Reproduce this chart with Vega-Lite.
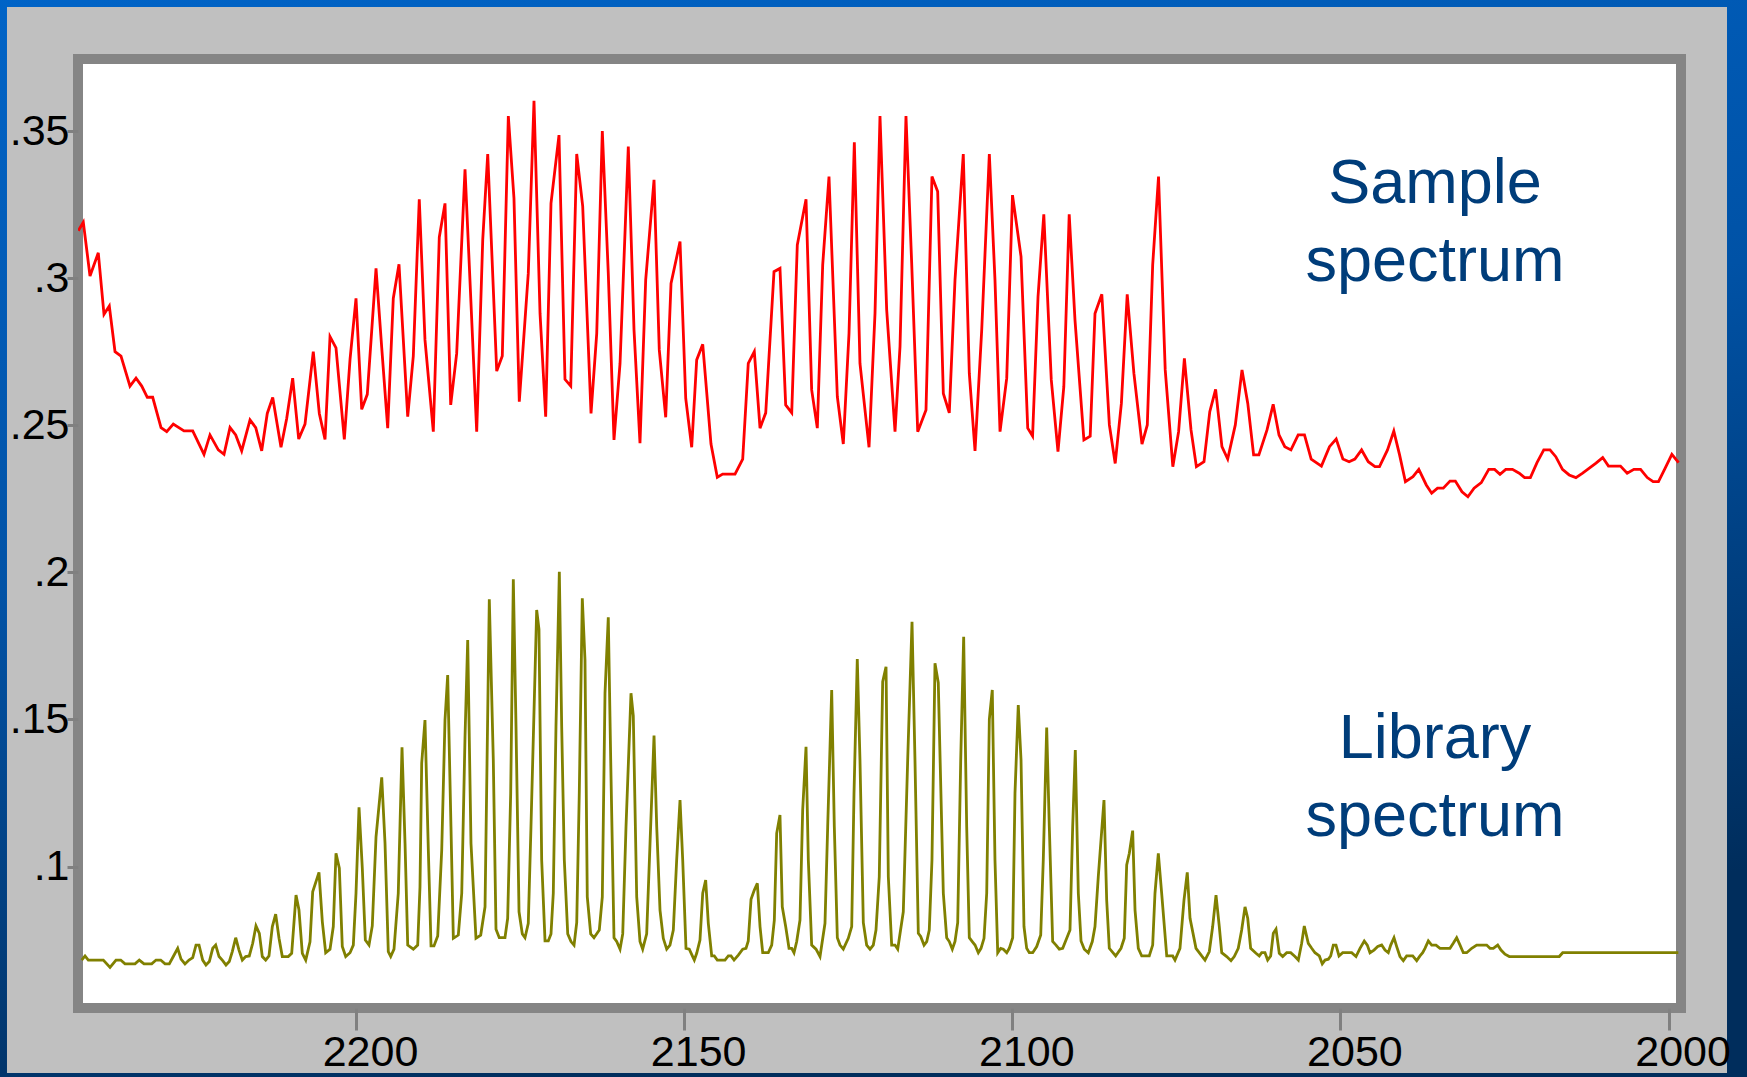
{
"$schema": "https://vega.github.io/schema/vega-lite/v6.json",
"width": 1603,
"height": 949,
"autosize": {"type": "none"},
"padding": {"left": 78, "top": 59, "right": 66, "bottom": 69},
"background": "#0a50a0",
"config": {"view": {"stroke": null}, "font": "Liberation Sans"},
"datasets": {
"sample": [
{"wn":2242.31,"abs":0.3161},{"wn":2241.55,"abs":0.3190},{"wn":2240.53,"abs":0.3007},{"wn":2239.27,"abs":0.3086},{"wn":2238.40,"abs":0.2877},{"wn":2237.59,"abs":0.2905},{"wn":2236.72,"abs":0.2750},{"wn":2235.81,"abs":0.2735},{"wn":2234.44,"abs":0.2633},{"wn":2233.52,"abs":0.2660},{"wn":2232.65,"abs":0.2633},{"wn":2231.80,"abs":0.2595},{"wn":2230.98,"abs":0.2595},{"wn":2229.71,"abs":0.2492},{"wn":2228.84,"abs":0.2478},{"wn":2227.84,"abs":0.2504},{"wn":2226.21,"abs":0.2481},{"wn":2224.88,"abs":0.2481},{"wn":2223.16,"abs":0.2401},{"wn":2222.25,"abs":0.2467},{"wn":2220.98,"abs":0.2416},{"wn":2220.11,"abs":0.2401},{"wn":2219.20,"abs":0.2492},{"wn":2218.33,"abs":0.2467},{"wn":2217.42,"abs":0.2413},{"wn":2216.15,"abs":0.2518},{"wn":2215.28,"abs":0.2492},{"wn":2214.37,"abs":0.2413},{"wn":2213.52,"abs":0.2540},{"wn":2212.69,"abs":0.2594},{"wn":2211.43,"abs":0.2425},{"wn":2210.56,"abs":0.2523},{"wn":2209.65,"abs":0.2660},{"wn":2208.73,"abs":0.2453},{"wn":2207.77,"abs":0.2504},{"wn":2206.51,"abs":0.2750},{"wn":2205.59,"abs":0.2540},{"wn":2204.72,"abs":0.2452},{"wn":2203.96,"abs":0.2801},{"wn":2203.05,"abs":0.2763},{"wn":2201.78,"abs":0.2452},{"wn":2200.91,"abs":0.2724},{"wn":2200.00,"abs":0.2931},{"wn":2199.13,"abs":0.2554},{"wn":2198.28,"abs":0.2605},{"wn":2196.95,"abs":0.3033},{"wn":2196.08,"abs":0.2763},{"wn":2195.17,"abs":0.2490},{"wn":2194.32,"abs":0.2931},{"wn":2193.45,"abs":0.3047},{"wn":2192.12,"abs":0.2529},{"wn":2191.27,"abs":0.2735},{"wn":2190.36,"abs":0.3268},{"wn":2189.49,"abs":0.2790},{"wn":2188.22,"abs":0.2478},{"wn":2187.31,"abs":0.3139},{"wn":2186.44,"abs":0.3254},{"wn":2185.57,"abs":0.2569},{"wn":2184.66,"abs":0.2744},{"wn":2183.39,"abs":0.3370},{"wn":2181.61,"abs":0.2478},{"wn":2180.69,"abs":0.3130},{"wn":2179.93,"abs":0.3422},{"wn":2178.56,"abs":0.2684},{"wn":2177.71,"abs":0.2735},{"wn":2176.79,"abs":0.3551},{"wn":2175.93,"abs":0.3271},{"wn":2175.12,"abs":0.2580},{"wn":2173.75,"abs":0.3016},{"wn":2172.88,"abs":0.3603},{"wn":2171.96,"abs":0.2880},{"wn":2171.10,"abs":0.2529},{"wn":2170.29,"abs":0.3254},{"wn":2169.07,"abs":0.3486},{"wn":2168.16,"abs":0.2656},{"wn":2167.28,"abs":0.2633},{"wn":2166.37,"abs":0.3422},{"wn":2165.46,"abs":0.3245},{"wn":2164.19,"abs":0.2540},{"wn":2163.32,"abs":0.2812},{"wn":2162.47,"abs":0.3500},{"wn":2161.56,"abs":0.3016},{"wn":2160.69,"abs":0.2450},{"wn":2159.77,"abs":0.2710},{"wn":2158.51,"abs":0.3447},{"wn":2157.64,"abs":0.2824},{"wn":2156.73,"abs":0.2439},{"wn":2155.86,"abs":0.2994},{"wn":2154.59,"abs":0.3334},{"wn":2153.79,"abs":0.2756},{"wn":2152.81,"abs":0.2527},{"wn":2152.00,"abs":0.2982},{"wn":2150.63,"abs":0.3124},{"wn":2149.76,"abs":0.2591},{"wn":2148.85,"abs":0.2425},{"wn":2148.09,"abs":0.2722},{"wn":2147.17,"abs":0.2775},{"wn":2145.91,"abs":0.2436},{"wn":2144.95,"abs":0.2323},{"wn":2144.13,"abs":0.2334},{"wn":2142.25,"abs":0.2334},{"wn":2141.08,"abs":0.2385},{"wn":2140.23,"abs":0.2710},{"wn":2139.31,"abs":0.2750},{"wn":2138.44,"abs":0.2490},{"wn":2137.57,"abs":0.2542},{"wn":2136.31,"abs":0.3022},{"wn":2135.40,"abs":0.3033},{"wn":2134.53,"abs":0.2569},{"wn":2133.61,"abs":0.2542},{"wn":2132.76,"abs":0.3113},{"wn":2131.43,"abs":0.3268},{"wn":2130.57,"abs":0.2620},{"wn":2129.71,"abs":0.2490},{"wn":2128.89,"abs":0.3045},{"wn":2127.93,"abs":0.3345},{"wn":2126.66,"abs":0.2597},{"wn":2125.75,"abs":0.2436},{"wn":2124.88,"abs":0.2812},{"wn":2124.07,"abs":0.3462},{"wn":2123.21,"abs":0.2710},{"wn":2121.83,"abs":0.2425},{"wn":2120.92,"abs":0.2880},{"wn":2120.16,"abs":0.3551},{"wn":2119.14,"abs":0.2892},{"wn":2117.87,"abs":0.2478},{"wn":2117.11,"abs":0.2767},{"wn":2116.20,"abs":0.3551},{"wn":2115.33,"abs":0.3050},{"wn":2114.41,"abs":0.2478},{"wn":2113.15,"abs":0.2552},{"wn":2112.24,"abs":0.3345},{"wn":2111.37,"abs":0.3294},{"wn":2110.51,"abs":0.2608},{"wn":2109.60,"abs":0.2542},{"wn":2108.73,"abs":0.2994},{"wn":2107.47,"abs":0.3422},{"wn":2106.55,"abs":0.2676},{"wn":2105.68,"abs":0.2413},{"wn":2104.66,"abs":0.2824},{"wn":2103.50,"abs":0.3422},{"wn":2102.64,"abs":0.2994},{"wn":2101.87,"abs":0.2478},{"wn":2100.85,"abs":0.2660},{"wn":2099.97,"abs":0.3282},{"wn":2098.67,"abs":0.3073},{"wn":2097.65,"abs":0.2490},{"wn":2096.91,"abs":0.2463},{"wn":2096.08,"abs":0.2937},{"wn":2095.20,"abs":0.3217},{"wn":2094.06,"abs":0.2654},{"wn":2093.04,"abs":0.2410},{"wn":2092.15,"abs":0.2631},{"wn":2091.33,"abs":0.3217},{"wn":2090.45,"abs":0.2858},{"wn":2089.09,"abs":0.2450},{"wn":2088.13,"abs":0.2463},{"wn":2087.40,"abs":0.2880},{"wn":2086.36,"abs":0.2945},{"wn":2085.21,"abs":0.2501},{"wn":2084.32,"abs":0.2370},{"wn":2083.38,"abs":0.2574},{"wn":2082.49,"abs":0.2945},{"wn":2081.47,"abs":0.2676},{"wn":2080.24,"abs":0.2436},{"wn":2079.43,"abs":0.2501},{"wn":2078.61,"abs":0.3045},{"wn":2077.72,"abs":0.3345},{"wn":2076.70,"abs":0.2688},{"wn":2075.54,"abs":0.2359},{"wn":2074.66,"abs":0.2478},{"wn":2073.78,"abs":0.2727},{"wn":2072.77,"abs":0.2484},{"wn":2071.95,"abs":0.2359},{"wn":2070.79,"abs":0.2376},{"wn":2069.91,"abs":0.2546},{"wn":2069.02,"abs":0.2622},{"wn":2068.06,"abs":0.2427},{"wn":2067.18,"abs":0.2385},{"wn":2066.02,"abs":0.2501},{"wn":2065.00,"abs":0.2688},{"wn":2064.12,"abs":0.2574},{"wn":2063.23,"abs":0.2399},{"wn":2062.43,"abs":0.2399},{"wn":2061.19,"abs":0.2484},{"wn":2060.25,"abs":0.2571},{"wn":2059.36,"abs":0.2467},{"wn":2058.48,"abs":0.2427},{"wn":2057.54,"abs":0.2416},{"wn":2056.44,"abs":0.2467},{"wn":2055.48,"abs":0.2467},{"wn":2054.46,"abs":0.2385},{"wn":2052.90,"abs":0.2361},{"wn":2051.67,"abs":0.2427},{"wn":2050.65,"abs":0.2453},{"wn":2049.63,"abs":0.2385},{"wn":2048.68,"abs":0.2376},{"wn":2047.80,"abs":0.2385},{"wn":2046.78,"abs":0.2416},{"wn":2045.76,"abs":0.2376},{"wn":2044.74,"abs":0.2359},{"wn":2044.05,"abs":0.2359},{"wn":2042.83,"abs":0.2416},{"wn":2041.87,"abs":0.2480},{"wn":2040.99,"abs":0.2399},{"wn":2040.10,"abs":0.2308},{"wn":2038.95,"abs":0.2325},{"wn":2038.06,"abs":0.2350},{"wn":2036.92,"abs":0.2297},{"wn":2036.10,"abs":0.2269},{"wn":2035.21,"abs":0.2286},{"wn":2034.33,"abs":0.2286},{"wn":2033.31,"abs":0.2310},{"wn":2032.49,"abs":0.2310},{"wn":2031.48,"abs":0.2274},{"wn":2030.58,"abs":0.2257},{"wn":2029.64,"abs":0.2286},{"wn":2028.54,"abs":0.2305},{"wn":2027.40,"abs":0.2350},{"wn":2026.51,"abs":0.2350},{"wn":2025.69,"abs":0.2333},{"wn":2024.81,"abs":0.2350},{"wn":2023.79,"abs":0.2350},{"wn":2022.76,"abs":0.2337},{"wn":2021.94,"abs":0.2322},{"wn":2021.06,"abs":0.2322},{"wn":2020.05,"abs":0.2373},{"wn":2019.02,"abs":0.2416},{"wn":2018.07,"abs":0.2416},{"wn":2017.19,"abs":0.2393},{"wn":2016.17,"abs":0.2350},{"wn":2015.15,"abs":0.2331},{"wn":2014.12,"abs":0.2322},{"wn":2013.10,"abs":0.2337},{"wn":2012.08,"abs":0.2354},{"wn":2011.06,"abs":0.2371},{"wn":2010.04,"abs":0.2390},{"wn":2009.16,"abs":0.2361},{"wn":2008.14,"abs":0.2361},{"wn":2007.33,"abs":0.2361},{"wn":2006.31,"abs":0.2337},{"wn":2005.29,"abs":0.2350},{"wn":2004.27,"abs":0.2350},{"wn":2003.25,"abs":0.2322},{"wn":2002.36,"abs":0.2308},{"wn":2001.54,"abs":0.2308},{"wn":2000.52,"abs":0.2354},{"wn":1999.50,"abs":0.2401},{"wn":1998.48,"abs":0.2373}
],
"library": [
{"wn":2241.80,"abs":0.0682},{"wn":2241.29,"abs":0.0696},{"wn":2240.79,"abs":0.0682},{"wn":2238.50,"abs":0.0682},{"wn":2237.48,"abs":0.0657},{"wn":2236.57,"abs":0.0682},{"wn":2235.85,"abs":0.0682},{"wn":2235.20,"abs":0.0669},{"wn":2233.67,"abs":0.0669},{"wn":2233.02,"abs":0.0682},{"wn":2232.30,"abs":0.0669},{"wn":2231.13,"abs":0.0669},{"wn":2230.47,"abs":0.0682},{"wn":2229.76,"abs":0.0682},{"wn":2229.10,"abs":0.0669},{"wn":2228.45,"abs":0.0669},{"wn":2227.84,"abs":0.0694},{"wn":2227.17,"abs":0.0722},{"wn":2226.66,"abs":0.0685},{"wn":2226.06,"abs":0.0669},{"wn":2225.45,"abs":0.0682},{"wn":2224.88,"abs":0.0690},{"wn":2224.38,"abs":0.0733},{"wn":2223.92,"abs":0.0733},{"wn":2223.36,"abs":0.0682},{"wn":2222.86,"abs":0.0665},{"wn":2222.35,"abs":0.0677},{"wn":2221.83,"abs":0.0722},{"wn":2221.38,"abs":0.0733},{"wn":2220.87,"abs":0.0694},{"wn":2220.31,"abs":0.0680},{"wn":2219.81,"abs":0.0665},{"wn":2219.31,"abs":0.0677},{"wn":2218.85,"abs":0.0711},{"wn":2218.33,"abs":0.0758},{"wn":2217.83,"abs":0.0716},{"wn":2217.32,"abs":0.0682},{"wn":2216.81,"abs":0.0694},{"wn":2216.26,"abs":0.0696},{"wn":2215.74,"abs":0.0739},{"wn":2215.24,"abs":0.0798},{"wn":2214.73,"abs":0.0773},{"wn":2214.28,"abs":0.0694},{"wn":2213.76,"abs":0.0682},{"wn":2213.26,"abs":0.0696},{"wn":2212.75,"abs":0.0796},{"wn":2212.24,"abs":0.0838},{"wn":2211.73,"abs":0.0756},{"wn":2211.23,"abs":0.0694},{"wn":2210.32,"abs":0.0694},{"wn":2209.80,"abs":0.0705},{"wn":2209.14,"abs":0.0903},{"wn":2208.69,"abs":0.0852},{"wn":2208.18,"abs":0.0705},{"wn":2207.66,"abs":0.0682},{"wn":2207.01,"abs":0.0744},{"wn":2206.60,"abs":0.0914},{"wn":2205.64,"abs":0.0980},{"wn":2205.13,"abs":0.0812},{"wn":2204.62,"abs":0.0707},{"wn":2203.96,"abs":0.0719},{"wn":2203.46,"abs":0.0796},{"wn":2203.05,"abs":0.1045},{"wn":2202.54,"abs":0.0994},{"wn":2202.09,"abs":0.0728},{"wn":2201.57,"abs":0.0694},{"wn":2200.91,"abs":0.0707},{"wn":2200.41,"abs":0.0733},{"wn":2200.00,"abs":0.0909},{"wn":2199.54,"abs":0.1201},{"wn":2199.04,"abs":0.0994},{"wn":2198.58,"abs":0.0750},{"wn":2198.02,"abs":0.0733},{"wn":2197.52,"abs":0.0798},{"wn":2196.95,"abs":0.1101},{"wn":2196.08,"abs":0.1303},{"wn":2195.58,"abs":0.1079},{"wn":2195.08,"abs":0.0711},{"wn":2194.71,"abs":0.0694},{"wn":2194.21,"abs":0.0719},{"wn":2193.56,"abs":0.0909},{"wn":2192.99,"abs":0.1405},{"wn":2192.53,"abs":0.1079},{"wn":2192.12,"abs":0.0733},{"wn":2191.27,"abs":0.0719},{"wn":2190.60,"abs":0.0733},{"wn":2190.25,"abs":0.0931},{"wn":2189.99,"abs":0.1351},{"wn":2189.49,"abs":0.1498},{"wn":2188.98,"abs":0.1056},{"wn":2188.57,"abs":0.0730},{"wn":2188.12,"abs":0.0730},{"wn":2187.55,"abs":0.0764},{"wn":2186.94,"abs":0.1056},{"wn":2186.44,"abs":0.1498},{"wn":2186.03,"abs":0.1651},{"wn":2185.53,"abs":0.1135},{"wn":2185.17,"abs":0.0756},{"wn":2184.41,"abs":0.0767},{"wn":2183.89,"abs":0.0909},{"wn":2183.39,"abs":0.1441},{"wn":2182.98,"abs":0.1770},{"wn":2182.48,"abs":0.1079},{"wn":2181.72,"abs":0.0756},{"wn":2181.00,"abs":0.0767},{"wn":2180.34,"abs":0.0863},{"wn":2179.69,"abs":0.1908},{"wn":2179.08,"abs":0.1362},{"wn":2178.67,"abs":0.0787},{"wn":2178.17,"abs":0.0758},{"wn":2177.30,"abs":0.0758},{"wn":2176.89,"abs":0.0824},{"wn":2176.43,"abs":0.1249},{"wn":2176.03,"abs":0.1976},{"wn":2175.62,"abs":0.1475},{"wn":2175.16,"abs":0.0846},{"wn":2174.66,"abs":0.0771},{"wn":2174.25,"abs":0.0758},{"wn":2173.75,"abs":0.0807},{"wn":2173.34,"abs":0.1135},{"wn":2172.47,"abs":0.1872},{"wn":2172.12,"abs":0.1806},{"wn":2171.71,"abs":0.1022},{"wn":2171.20,"abs":0.0747},{"wn":2170.70,"abs":0.0747},{"wn":2170.29,"abs":0.0771},{"wn":2169.94,"abs":0.0909},{"wn":2169.53,"abs":0.1475},{"wn":2169.02,"abs":0.2002},{"wn":2168.66,"abs":0.1475},{"wn":2168.26,"abs":0.1022},{"wn":2167.74,"abs":0.0771},{"wn":2167.24,"abs":0.0745},{"wn":2166.78,"abs":0.0733},{"wn":2166.37,"abs":0.0809},{"wn":2165.98,"abs":0.1249},{"wn":2165.52,"abs":0.1912},{"wn":2165.11,"abs":0.1702},{"wn":2164.76,"abs":0.0897},{"wn":2164.24,"abs":0.0771},{"wn":2163.74,"abs":0.0758},{"wn":2162.93,"abs":0.0784},{"wn":2162.47,"abs":0.0897},{"wn":2162.06,"abs":0.1589},{"wn":2161.56,"abs":0.1847},{"wn":2161.19,"abs":0.1362},{"wn":2160.69,"abs":0.0758},{"wn":2160.28,"abs":0.0745},{"wn":2159.77,"abs":0.0719},{"wn":2159.36,"abs":0.0771},{"wn":2158.86,"abs":0.1135},{"wn":2158.10,"abs":0.1589},{"wn":2157.75,"abs":0.1512},{"wn":2157.23,"abs":0.0897},{"wn":2156.73,"abs":0.0745},{"wn":2156.32,"abs":0.0719},{"wn":2155.71,"abs":0.0771},{"wn":2155.20,"abs":0.1079},{"wn":2154.59,"abs":0.1445},{"wn":2154.18,"abs":0.1135},{"wn":2153.68,"abs":0.0852},{"wn":2153.18,"abs":0.0756},{"wn":2152.66,"abs":0.0719},{"wn":2152.16,"abs":0.0733},{"wn":2151.65,"abs":0.0784},{"wn":2151.14,"abs":0.1022},{"wn":2150.63,"abs":0.1226},{"wn":2150.22,"abs":0.1022},{"wn":2149.72,"abs":0.0722},{"wn":2149.22,"abs":0.0719},{"wn":2148.70,"abs":0.0694},{"wn":2148.45,"abs":0.0682},{"wn":2148.09,"abs":0.0705},{"wn":2147.59,"abs":0.0750},{"wn":2147.17,"abs":0.0909},{"wn":2146.72,"abs":0.0954},{"wn":2146.32,"abs":0.0807},{"wn":2145.80,"abs":0.0696},{"wn":2145.41,"abs":0.0696},{"wn":2144.95,"abs":0.0682},{"wn":2143.78,"abs":0.0682},{"wn":2143.27,"abs":0.0696},{"wn":2142.86,"abs":0.0696},{"wn":2142.40,"abs":0.0682},{"wn":2141.75,"abs":0.0699},{"wn":2141.08,"abs":0.0719},{"wn":2140.58,"abs":0.0722},{"wn":2140.23,"abs":0.0747},{"wn":2139.81,"abs":0.0889},{"wn":2139.31,"abs":0.0920},{"wn":2138.85,"abs":0.0943},{"wn":2138.44,"abs":0.0796},{"wn":2138.03,"abs":0.0707},{"wn":2137.18,"abs":0.0707},{"wn":2136.66,"abs":0.0733},{"wn":2136.26,"abs":0.0818},{"wn":2135.90,"abs":0.1113},{"wn":2135.40,"abs":0.1175},{"wn":2135.05,"abs":0.0863},{"wn":2134.53,"abs":0.0796},{"wn":2134.02,"abs":0.0722},{"wn":2133.61,"abs":0.0722},{"wn":2133.26,"abs":0.0707},{"wn":2132.85,"abs":0.0745},{"wn":2132.35,"abs":0.0818},{"wn":2131.94,"abs":0.1192},{"wn":2131.43,"abs":0.1407},{"wn":2131.08,"abs":0.1022},{"wn":2130.57,"abs":0.0733},{"wn":2129.91,"abs":0.0719},{"wn":2129.30,"abs":0.0694},{"wn":2128.54,"abs":0.0807},{"wn":2128.13,"abs":0.1135},{"wn":2127.52,"abs":0.1600},{"wn":2127.12,"abs":0.1135},{"wn":2126.66,"abs":0.0758},{"wn":2126.25,"abs":0.0733},{"wn":2125.75,"abs":0.0719},{"wn":2124.99,"abs":0.0756},{"wn":2124.47,"abs":0.0796},{"wn":2124.12,"abs":0.1249},{"wn":2123.62,"abs":0.1705},{"wn":2123.21,"abs":0.1362},{"wn":2122.70,"abs":0.0809},{"wn":2122.19,"abs":0.0733},{"wn":2121.68,"abs":0.0719},{"wn":2121.18,"abs":0.0733},{"wn":2120.77,"abs":0.0784},{"wn":2120.27,"abs":0.0965},{"wn":2119.75,"abs":0.1628},{"wn":2119.24,"abs":0.1679},{"wn":2118.89,"abs":0.0965},{"wn":2118.38,"abs":0.0733},{"wn":2117.87,"abs":0.0733},{"wn":2117.46,"abs":0.0719},{"wn":2116.61,"abs":0.0846},{"wn":2115.94,"abs":0.1362},{"wn":2115.28,"abs":0.1832},{"wn":2114.83,"abs":0.1362},{"wn":2114.32,"abs":0.0773},{"wn":2113.96,"abs":0.0762},{"wn":2113.45,"abs":0.0733},{"wn":2113.04,"abs":0.0745},{"wn":2112.65,"abs":0.0784},{"wn":2112.24,"abs":0.1022},{"wn":2111.78,"abs":0.1691},{"wn":2111.28,"abs":0.1625},{"wn":2110.51,"abs":0.0909},{"wn":2110.00,"abs":0.0758},{"wn":2109.60,"abs":0.0745},{"wn":2109.14,"abs":0.0719},{"wn":2108.73,"abs":0.0745},{"wn":2108.32,"abs":0.0809},{"wn":2107.86,"abs":0.1362},{"wn":2107.41,"abs":0.1781},{"wn":2106.95,"abs":0.1135},{"wn":2106.55,"abs":0.0758},{"wn":2106.10,"abs":0.0745},{"wn":2105.68,"abs":0.0733},{"wn":2105.18,"abs":0.0707},{"wn":2104.77,"abs":0.0722},{"wn":2104.31,"abs":0.0756},{"wn":2103.90,"abs":0.0909},{"wn":2103.50,"abs":0.1500},{"wn":2103.05,"abs":0.1600},{"wn":2102.64,"abs":0.1022},{"wn":2102.22,"abs":0.0707},{"wn":2101.77,"abs":0.0722},{"wn":2101.37,"abs":0.0719},{"wn":2100.85,"abs":0.0707},{"wn":2100.46,"abs":0.0722},{"wn":2099.94,"abs":0.0758},{"wn":2099.59,"abs":0.1249},{"wn":2099.09,"abs":0.1549},{"wn":2098.67,"abs":0.1362},{"wn":2098.22,"abs":0.0796},{"wn":2097.81,"abs":0.0722},{"wn":2097.41,"abs":0.0707},{"wn":2096.89,"abs":0.0707},{"wn":2096.28,"abs":0.0728},{"wn":2095.67,"abs":0.0767},{"wn":2095.28,"abs":0.1022},{"wn":2094.76,"abs":0.1472},{"wn":2094.36,"abs":0.1135},{"wn":2093.85,"abs":0.0745},{"wn":2093.34,"abs":0.0733},{"wn":2092.84,"abs":0.0719},{"wn":2092.32,"abs":0.0722},{"wn":2091.71,"abs":0.0756},{"wn":2091.21,"abs":0.0784},{"wn":2090.80,"abs":0.1135},{"wn":2090.40,"abs":0.1396},{"wn":2089.94,"abs":0.0909},{"wn":2089.53,"abs":0.0747},{"wn":2089.03,"abs":0.0719},{"wn":2088.42,"abs":0.0707},{"wn":2087.81,"abs":0.0745},{"wn":2087.40,"abs":0.0796},{"wn":2086.90,"abs":0.0965},{"wn":2086.03,"abs":0.1226},{"wn":2085.62,"abs":0.0886},{"wn":2085.22,"abs":0.0722},{"wn":2084.25,"abs":0.0696},{"wn":2083.44,"abs":0.0722},{"wn":2082.94,"abs":0.0756},{"wn":2082.57,"abs":0.1005},{"wn":2082.17,"abs":0.1045},{"wn":2081.66,"abs":0.1122},{"wn":2081.30,"abs":0.0852},{"wn":2080.80,"abs":0.0722},{"wn":2080.28,"abs":0.0696},{"wn":2079.13,"abs":0.0696},{"wn":2078.61,"abs":0.0733},{"wn":2078.26,"abs":0.0909},{"wn":2077.75,"abs":0.1045},{"wn":2077.24,"abs":0.0909},{"wn":2076.47,"abs":0.0696},{"wn":2075.56,"abs":0.0696},{"wn":2075.21,"abs":0.0682},{"wn":2074.45,"abs":0.0722},{"wn":2073.84,"abs":0.0886},{"wn":2073.34,"abs":0.0980},{"wn":2072.92,"abs":0.0824},{"wn":2072.01,"abs":0.0722},{"wn":2071.14,"abs":0.0696},{"wn":2070.64,"abs":0.0682},{"wn":2069.98,"abs":0.0711},{"wn":2069.47,"abs":0.0796},{"wn":2068.96,"abs":0.0903},{"wn":2068.46,"abs":0.0796},{"wn":2068.09,"abs":0.0707},{"wn":2067.33,"abs":0.0694},{"wn":2066.68,"abs":0.0680},{"wn":2066.18,"abs":0.0694},{"wn":2065.57,"abs":0.0722},{"wn":2065.05,"abs":0.0784},{"wn":2064.54,"abs":0.0863},{"wn":2064.13,"abs":0.0824},{"wn":2063.68,"abs":0.0722},{"wn":2062.87,"abs":0.0705},{"wn":2062.37,"abs":0.0696},{"wn":2062.00,"abs":0.0707},{"wn":2061.50,"abs":0.0707},{"wn":2061.09,"abs":0.0682},{"wn":2060.63,"abs":0.0696},{"wn":2060.23,"abs":0.0773},{"wn":2059.82,"abs":0.0787},{"wn":2059.32,"abs":0.0705},{"wn":2058.80,"abs":0.0694},{"wn":2058.19,"abs":0.0707},{"wn":2057.58,"abs":0.0707},{"wn":2056.93,"abs":0.0694},{"wn":2056.42,"abs":0.0682},{"wn":2055.91,"abs":0.0739},{"wn":2055.51,"abs":0.0798},{"wn":2054.90,"abs":0.0739},{"wn":2054.38,"abs":0.0722},{"wn":2053.88,"abs":0.0707},{"wn":2053.22,"abs":0.0696},{"wn":2052.77,"abs":0.0669},{"wn":2052.35,"abs":0.0682},{"wn":2051.85,"abs":0.0685},{"wn":2051.49,"abs":0.0696},{"wn":2051.09,"abs":0.0733},{"wn":2050.68,"abs":0.0733},{"wn":2050.22,"abs":0.0696},{"wn":2049.66,"abs":0.0707},{"wn":2048.29,"abs":0.0707},{"wn":2047.63,"abs":0.0694},{"wn":2047.02,"abs":0.0722},{"wn":2046.37,"abs":0.0747},{"wn":2045.91,"abs":0.0733},{"wn":2045.50,"abs":0.0707},{"wn":2044.89,"abs":0.0716},{"wn":2044.32,"abs":0.0728},{"wn":2043.72,"abs":0.0733},{"wn":2043.21,"abs":0.0716},{"wn":2042.71,"abs":0.0707},{"wn":2042.34,"abs":0.0733},{"wn":2041.84,"abs":0.0758},{"wn":2041.43,"abs":0.0728},{"wn":2040.93,"abs":0.0694},{"wn":2040.42,"abs":0.0680},{"wn":2039.91,"abs":0.0696},{"wn":2038.99,"abs":0.0696},{"wn":2038.38,"abs":0.0680},{"wn":2037.88,"abs":0.0696},{"wn":2037.47,"abs":0.0707},{"wn":2037.12,"abs":0.0722},{"wn":2036.61,"abs":0.0747},{"wn":2036.10,"abs":0.0733},{"wn":2035.44,"abs":0.0733},{"wn":2034.83,"abs":0.0722},{"wn":2033.31,"abs":0.0722},{"wn":2032.81,"abs":0.0739},{"wn":2032.29,"abs":0.0758},{"wn":2031.78,"abs":0.0733},{"wn":2031.28,"abs":0.0707},{"wn":2030.76,"abs":0.0707},{"wn":2030.00,"abs":0.0722},{"wn":2029.24,"abs":0.0733},{"wn":2027.72,"abs":0.0733},{"wn":2027.21,"abs":0.0722},{"wn":2026.71,"abs":0.0722},{"wn":2026.04,"abs":0.0733},{"wn":2025.54,"abs":0.0716},{"wn":2024.93,"abs":0.0702},{"wn":2024.27,"abs":0.0694},{"wn":2016.66,"abs":0.0694},{"wn":2016.14,"abs":0.0707},{"wn":1998.52,"abs":0.0707}
]
},
"layer": [
{
"data": {"values": [{}]},
"mark": {"type": "rect", "fill": {"gradient": "linear", "x1": 0, "y1": 0, "x2": 0.3, "y2": 1, "stops": [{"offset": 0, "color": "#0064C8"}, {"offset": 0.5, "color": "#0052A6"}, {"offset": 1, "color": "#002D5C"}]}},
"encoding": {
"x": {"datum": 2256, "type": "quantitative", "scale": {"domain": [1998.11, 2242.36], "reverse": true, "nice": false, "zero": false}, "axis": {"values": [2000, 2050, 2100, 2150, 2200], "format": "d", "title": null, "domain": false, "grid": false, "tickSize": 22, "tickWidth": 3, "tickColor": "#808080", "labelFontSize": 43, "labelFont": "Liberation Sans", "labelColor": "#000000", "labelPadding": 1, "labelOffset": 14, "labelFlush": false, "labelOverlap": false, "zindex": 1}},
"x2": {"datum": 1986},
"y": {"datum": 0.40, "type": "quantitative", "scale": {"domain": [0.05191, 0.37448], "nice": false, "zero": false}, "axis": {"values": [0.1, 0.15, 0.2, 0.25, 0.3, 0.35], "labelExpr": "replace(format(datum.value, '.2~f'), '0.', '.')", "title": null, "domain": false, "grid": false, "tickSize": 11, "tickWidth": 3, "tickColor": "#808080", "labelFontSize": 43, "labelFont": "Liberation Sans", "labelColor": "#000000", "labelPadding": -2, "labelFlush": false, "labelOverlap": false, "zindex": 1}},
"y2": {"datum": 0.02}
}
},
{
"data": {"values": [{}]},
"mark": {"type": "rect", "fill": "#C0C0C0"},
"encoding": {
"x": {"datum": 2253.18, "type": "quantitative"},
"x2": {"datum": 1991.10},
"y": {"datum": 0.39215, "type": "quantitative"},
"y2": {"datum": 0.02982}
}
},
{
"data": {"values": [{}]},
"mark": {"type": "rect", "fill": "#FFFFFF", "stroke": "#858585", "strokeWidth": 10},
"encoding": {
"x": {"datum": 2242.36, "type": "quantitative"},
"x2": {"datum": 1998.11},
"y": {"datum": 0.37448, "type": "quantitative"},
"y2": {"datum": 0.05191}
}
},
{
"data": {"name": "sample"},
"mark": {"type": "line", "color": "#FF0000", "strokeWidth": 2.8, "clip": true},
"encoding": {
"x": {"field": "wn", "type": "quantitative"},
"y": {"field": "abs", "type": "quantitative"}
}
},
{
"data": {"name": "library"},
"mark": {"type": "line", "color": "#808000", "strokeWidth": 2.8, "clip": true},
"encoding": {
"x": {"field": "wn", "type": "quantitative"},
"y": {"field": "abs", "type": "quantitative"}
}
},
{
"data": {"values": [{"label": "Sample spectrum"}]},
"mark": {"type": "text", "lineBreak": " ", "align": "center", "baseline": "alphabetic", "fontSize": 63, "lineHeight": 78, "font": "Liberation Sans", "color": "#003D7A"},
"encoding": {
"x": {"datum": 2035.59, "type": "quantitative"},
"y": {"datum": 0.32553, "type": "quantitative"},
"text": {"field": "label"}
}
},
{
"data": {"values": [{"label": "Library spectrum"}]},
"mark": {"type": "text", "lineBreak": " ", "align": "center", "baseline": "alphabetic", "fontSize": 63, "lineHeight": 78, "font": "Liberation Sans", "color": "#003D7A"},
"encoding": {
"x": {"datum": 2035.59, "type": "quantitative"},
"y": {"datum": 0.13689, "type": "quantitative"},
"text": {"field": "label"}
}
}
]
}
